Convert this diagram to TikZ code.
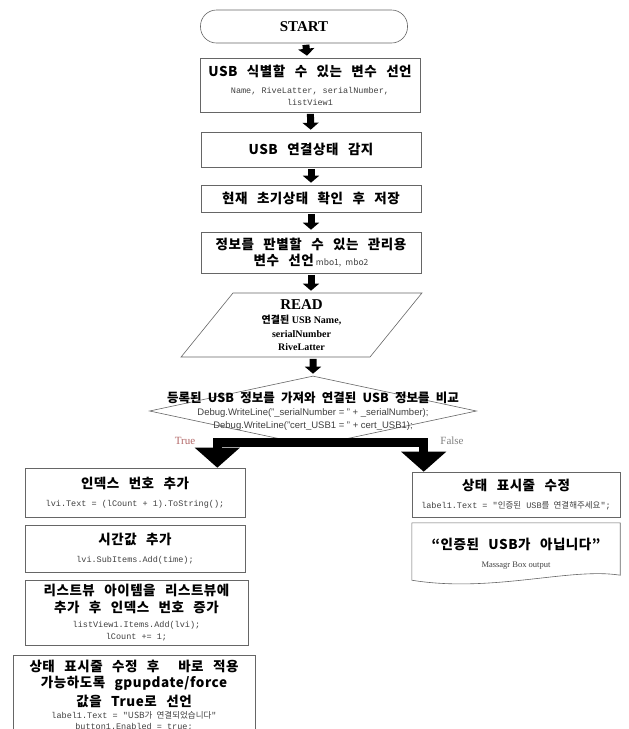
\documentclass[tikz,border=0pt]{standalone}
\usepackage{fontspec}
\setmainfont{Liberation Serif}
\setsansfont{Liberation Sans}
\setmonofont{Liberation Mono}
\newfontfamily\kr{Noto Sans CJK KR}[WordSpace=2.2]
\newfontfamily\krw{Noto Sans CJK KR}[WordSpace=2.6, LetterSpace=4]
\usetikzlibrary{arrows.meta}
\usetikzlibrary{shapes.geometric}

% text helpers
\newcommand{\hd}[1]{{\krw\bfseries\fontsize{13.5}{12}\selectfont #1}}
\newcommand{\cd}[1]{{\ttfamily\fontsize{8.5}{12}\selectfont\color{black!75} #1}}
\newcommand{\kc}[1]{{\kr #1}}

\tikzset{
	stepbox/.style={draw=black!60, line width=.6pt, fill=white, align=center, inner sep=1pt, font=\fontsize{8.5}{12}\selectfont},
	smallarrow/.style={-{Triangle[width=16pt,length=7pt]}, line width=7pt, black, shorten <=1.5pt, shorten >=2pt},
	bigarrow/.style={-{Triangle[width=44pt,length=20pt]}, line width=9pt, black},
}

\begin{document}
\begin{tikzpicture}[x=1pt,y=-1pt]

	\useasboundingbox (0,0) rectangle (629,729);
	\clip (0,0) rectangle (629,729);

	% main column
	\node[stepbox, rounded corners=16pt, minimum width=207pt, minimum height=33pt, font=\bfseries\fontsize{15}{18}\selectfont] (start) at (304,26.5) {START};

	\node[stepbox, minimum width=220pt, minimum height=54pt] (vars) at (310,85)
		{\hd{USB 식별할 수 있는 변수 선언}\\[5pt]\cd{Name, RiveLatter, serialNumber,}\\\cd{listView1}};

	\node[stepbox, minimum width=220pt, minimum height=35pt] (detect) at (311,149.5) {\hd{USB 연결상태 감지}};

	\node[stepbox, minimum width=220pt, minimum height=27pt] (init) at (311,198.5) {\hd{현재 초기상태 확인 후 저장}};

	\node[stepbox, minimum width=220pt, minimum height=41pt] (mgr) at (311,252.5)
		{\hd{정보를 판별할 수 있는 관리용}\\[3pt]\hd{변수 선언} {\kr\fontsize{8.5}{10}\selectfont\color{black!75} mbo1, mbo2}};

	% input
	\node[stepbox, trapezium, trapezium left angle=60, trapezium right angle=120, trapezium stretches=true,
		minimum width=241pt, minimum height=64pt, font=\bfseries\fontsize{10}{13.5}\selectfont] (read) at (301.5,325)
		{{\fontsize{15}{17}\selectfont READ}\\[1pt]
		 {\kr 연결된} USB Name,\\
		 serialNumber\\
		 RiveLatter};

	% decision
	\node[stepbox, diamond, minimum width=327pt, minimum height=70pt] (cmp) at (313,411) {};
	\node (cmptitle) at (313,398) {{\kr\bfseries\fontsize{12.5}{14}\selectfont 등록된 USB 정보를 가져와 연결된 USB 정보를 비교}};
	\node[font=\sffamily\fontsize{9.5}{10}\selectfont, text=black!75] (cmpdbg1) at (313,413) {Debug.WriteLine("\_serialNumber = " + \_serialNumber);};
	\node[font=\sffamily\fontsize{9.5}{10}\selectfont, text=black!75] (cmpdbg2) at (313,426) {Debug.WriteLine("cert\_USB1 = " + cert\_USB1);};

	% True branch
	\node[stepbox, minimum width=220pt, minimum height=49pt] (idx) at (135,492.5)
		{\hd{인덱스 번호 추가}\\[6pt]\cd{lvi.Text = (lCount + 1).ToString();}};
	\node[stepbox, minimum width=220pt, minimum height=47pt] (time) at (135,548.5)
		{\hd{시간값 추가}\\[6pt]\cd{lvi.SubItems.Add(time);}};
	\node[stepbox, minimum width=223pt, minimum height=65pt] (add) at (136.5,612.5)
		{\hd{리스트뷰 아이템을 리스트뷰에}\\[3pt]\hd{추가 후 인덱스 번호 증가}\\[3pt]\cd{listView1.Items.Add(lvi);}\\\cd{lCount += 1;}};
	\node[stepbox, minimum width=242pt, minimum height=80pt, anchor=north, font=\fontsize{8.5}{11}\selectfont] (done) at (134,655)
		{\hd{상태 표시줄 수정 후 \ 바로 적용}\\[3pt]\hd{가능하도록 gpupdate/force}\\[3pt]\hd{값을 True로 선언}\\[1pt]
		 \cd{label1.Text = "\kc{USB가 연결되었습니다}"}\\\cd{button1.Enabled = true;}};

	% False branch
	\node[stepbox, minimum width=208pt, minimum height=45pt] (warn) at (516,494.5)
		{\hd{상태 표시줄 수정}\\[6pt]\cd{label1.Text = "\kc{인증된} USB\kc{를 연결해주세요}";}};
	\node[align=center, inner sep=1pt, minimum width=208pt, minimum height=62pt, font=\fontsize{8.5}{12}\selectfont] (msg) at (516,554)
		{\hd{“인증된 USB가 아닙니다”}\\[6pt]{\fontsize{8.5}{10}\selectfont\color{black!75} Massagr Box output}};
	\draw[draw=black!60, line width=.6pt] (msg.north west) -- (msg.north east) -- ([yshift=10pt]msg.south east)
		.. controls ([xshift=-50pt,yshift=18pt]msg.south east) and ([xshift=80pt,yshift=-8pt]msg.south west) .. ([yshift=5pt]msg.south west) -- cycle;

	% Arrows
	\draw[smallarrow] (start) -- (vars);
	\draw[smallarrow] (vars) -- (detect);
	\draw[smallarrow] (detect) -- (init);
	\draw[smallarrow] (init) -- (mgr);
	\draw[smallarrow] (mgr.south) -- (mgr.south |- read.north);
	\draw[smallarrow] ([xshift=11.5pt]read.south) -- (cmp.north);

	\draw[bigarrow] ([yshift=4pt]cmp.south) -| ([xshift=-28pt]idx.north east);
	\draw[bigarrow] ([yshift=4pt]cmp.south) -| ([xshift=12pt]warn.north west);

	% branch labels
	\node[text=red!50!black!60, font=\fontsize{11}{12}\selectfont] (truelbl) at (185,441) {True};
	\node[text=black!50, font=\fontsize{11}{12}\selectfont] (falselbl) at (452,441) {False};

\end{tikzpicture}
\end{document}
